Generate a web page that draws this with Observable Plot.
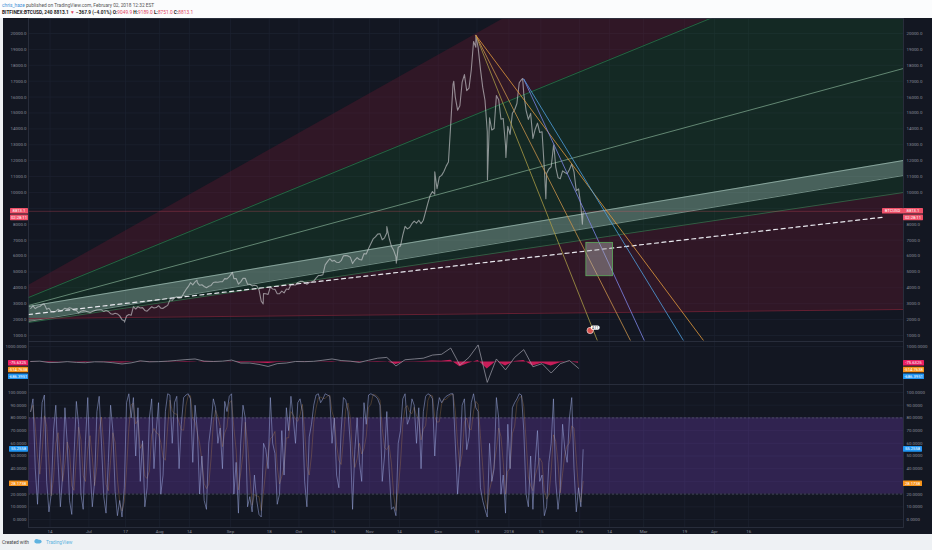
<!DOCTYPE html>
<html><head><meta charset="utf-8">
<script src="https://cdn.jsdelivr.net/npm/d3@7"></script>
<script src="https://cdn.jsdelivr.net/npm/@observablehq/plot@0.6"></script>
<style>
html,body{margin:0;padding:0;width:932px;height:550px;overflow:hidden;background:#eef1f4;font-family:Roboto,"Liberation Sans",sans-serif;}
#hdr{position:absolute;left:0;top:0;width:932px;height:18px;background:#fbfcfd;}
#dark{position:absolute;left:3px;top:18px;width:929px;height:516px;background:#131722;}
.pane{position:absolute;left:0;line-height:0;}
#ftr{position:absolute;left:0;top:534px;width:932px;height:16px;}
</style></head><body>
<svg id="hdr" width="932" height="18"></svg>
<div id="dark"></div>
<div id="main" class="pane" style="top:18px"></div>
<div id="osc" class="pane" style="top:341px"></div>
<div id="stoch" class="pane" style="top:384px"></div>
<svg id="ftr" width="932" height="16"></svg>
<script>
// ---------------- DATA ----------------
const xDomainDates = ["2017-06-04T13:00Z", "2018-06-22T20:00Z"];
const xTickDates = ["2017-06-14","2017-07-01","2017-07-17","2017-08-01","2017-08-14","2017-09-01","2017-09-18","2017-10-01","2017-10-16","2017-11-01","2017-11-14","2017-12-01","2017-12-18","2018-01-01","2018-01-15","2018-02-01","2018-02-14","2018-03-01","2018-03-19","2018-04-01","2018-04-16"];
const xTickLabels = ["14","Jul","17","Aug","14","Sep","18","Oct","16","Nov","14","Dec","18","2018","15","Feb","14","Mar","19","Apr","16"];
const priceTicks = [1000,2000,3000,4000,5000,6000,7000,8000,9000,10000,11000,12000,13000,14000,15000,16000,17000,18000,19000,20000];
const oscTicks = [1000];
const stochTicks = [0,10,20,30,40,50,60,70,80,90,100];

// BTCUSD daily closes, 2017-06-05 .. 2018-02-02
const priceStart = "2017-06-05T12:00Z";
const dailyClose = [
2698,2868,2693,2794,2824,2947,2958,2659,2717,2507,2465,2519,2655,2549,2612,2711,2666,2748,2700,2589,2578,2427,2530,2566,2540,2480,
2434,2507,2564,2601,2601,2608,2518,2571,2518,2372,2337,2398,2357,2233,1998,1929,2228,2318,2273,2817,2667,2810,2730,2754,2576,2529,2671,2809,2726,2757,2875,
2718,2710,2804,2895,3252,3213,3378,3419,3342,3381,3650,3884,4073,4325,4181,4376,4331,4160,4193,4087,4001,4100,4151,4334,4371,4352,4382,4382,4579,4565,4703,
4892,4578,4582,4236,4376,4597,4599,4228,4226,4122,4161,4130,3882,3154,3637,3625,3582,4065,3924,3905,3631,3630,3792,3682,3926,3892,4208,4185,4174,4338,
4403,4409,4318,4229,4329,4370,4426,4611,4773,4782,4826,5446,5648,5831,5679,5725,5605,5590,5708,6011,6031,6008,5930,5526,5750,5904,5780,5753,6153,6130,6468,
6767,7078,7207,7379,7407,7022,7144,7459,7143,6618,6357,5950,6559,6635,7315,7871,7708,7790,8036,8200,8071,8253,8038,8253,8790,9330,9818,10058,9888,10233,
10975,11074,11323,11657,11916,14291,16800,16000,15178,15455,16937,17415,16408,16564,17706,19498,19140,19114,17776,16624,15802,13831,14699,13926,14026,16099,15838,14606,14656,12952,14156,
13657,14982,15201,15599,16900,17100,16200,15170,14595,14973,13405,13980,14360,13772,13819,11490,11188,11474,11607,12899,11600,10931,10868,11359,11259,11171,11440,11786,11296,10106,10221,
9170,8813];
const intradayTimes = ["2017-06-11T08:00Z","2017-07-16T14:00Z","2017-08-17T08:00Z","2017-09-01T20:00Z","2017-09-15T08:00Z","2017-11-08T12:00Z","2017-11-12T16:00Z","2017-11-29T12:00Z","2017-12-07T20:00Z","2017-12-17T12:00Z","2017-12-22T14:00Z","2017-12-30T16:00Z","2018-01-07T00:00Z","2018-01-17T04:00Z","2018-01-20T16:00Z","2018-02-02T04:00Z"];
const intradayPrices = [2990,1840,4480,4980,2980,7850,5550,11300,17000,19890,10800,12200,17170,9600,13000,8000];
const lastPrice = 8813.1;

// drawing-tool anchors (date, price)
const edgeDates = ["2017-06-04T13:00Z", "2018-06-22T20:00Z"];
const lineA = [4150, 35060];
const lineB = [3390, 25920];
const lineC = [2890, 17800];
const bandTop = [2826, 12010];
const bandBottom = [1882, 11067];
const lineD = [1819, 9997];
const lineE = [2070, 2637];
const dashedDates = ["2017-06-04T13:00Z", "2018-06-14T00:00Z"];
const dashedPrices = [2322, 8443];
const fan1Origin = ["2017-12-17T12:00Z", 19890];
const fan1EndDates = ["2018-02-08T17:00Z", "2018-02-23T05:00Z", "2018-03-27T05:00Z"];
const fan2Origin = ["2018-01-07T10:00Z", 17150];
const fan2EndDates = ["2018-03-01T07:00Z", "2018-03-18T10:00Z"];
const fanEndPrice = 687;
const boxDates = ["2018-02-03T22:00Z", "2018-02-15T14:00Z"];
const boxPrices = [4730, 6830];
const badgeDate = "2018-02-05T14:00Z";
const badgePrice = 1316;

// oscillator (every 4 days from 2017-06-05)
const oscStart = "2017-06-05T12:00Z";
const oscLine = [40,60,-30,-20,30,-20,-40,20,10,-40,-120,-50,80,20,30,60,110,160,200,60,40,60,130,-60,-60,-150,-280,-100,-60,40,30,50,120,200,100,60,-20,120,250,300,-250,150,200,250,450,500,900,-200,300,1100,-1300,200,-500,300,800,-300,-100,-700,-100,100,-400];
const oscHist = [-10,10,-20,-10,5,-15,-20,5,-10,-30,-60,-15,20,-10,5,15,30,40,30,-20,-10,5,30,-40,-30,-60,-90,-20,-15,10,-10,5,30,40,-15,-10,-30,20,40,30,-150,20,30,40,70,50,120,-300,-80,100,-450,60,-250,40,100,-250,-80,-250,-40,20,-75];

// stochastic %K daily from 2017-06-05
const stochK = [
85,95,40,12,55,92,98,30,6,20,70,90,45,10,35,88,60,15,4,50,93,75,20,8,62,96,
40,10,30,85,97,60,18,5,45,90,70,22,3,15,2,25,92,99,80,96,50,88,30,62,10,25,80,95,40,70,92,
20,35,85,99,98,60,92,97,40,75,96,98,99,95,45,90,70,20,50,15,8,60,75,95,88,60,72,40,93,85,97,
99,20,45,5,60,90,80,10,18,6,35,15,4,2,60,55,40,96,60,52,12,20,70,35,88,70,97,80,60,92,
95,85,30,10,65,75,90,98,99,92,95,99,98,97,60,80,35,25,70,96,94,85,60,8,55,80,45,30,92,75,98,
99,98,97,95,90,30,50,85,40,8,10,3,60,70,95,99,75,80,95,90,60,88,40,85,97,99,98,95,50,85,
96,92,95,97,98,99,99,60,20,45,90,95,55,65,92,99,88,85,25,15,8,2,60,30,40,96,80,20,35,5,75,
40,88,92,95,99,98,70,20,10,50,8,45,70,30,35,3,10,45,60,95,30,8,25,75,55,45,80,96,40,6,25,
10,55];
const stochKLast = 55.2558, stochDLast = 28.1738;
const oscTags = [-75.6325, -514.7638, -686.3951];

// ---------------- BUILD ----------------
const D = s => new Date(s);
const xDomain = xDomainDates.map(D);
const xTicks = xTickDates.map((d,i)=>({date:new Date(d+"T00:00Z"), label:xTickLabels[i]}));
const t0 = D(priceStart);
const priceSeries = dailyClose.map((v,i)=>({date:d3.utcDay.offset(t0,i), price:v}))
  .concat(intradayTimes.map((t,i)=>({date:D(t), price:intradayPrices[i]})))
  .sort((a,b)=>a.date-b.date);
const E0 = D(edgeDates[0]), E1 = D(edgeDates[1]);
const band = (lo,hi)=>[{x:E0,y1:lo[0],y2:hi[0]},{x:E1,y1:lo[1],y2:hi[1]}];
const seg = arr=>[{x:E0,y:arr[0]},{x:E1,y:arr[1]}];
const fans = fan1EndDates.map(d=>({x1:D(fan1Origin[0]),y1:fan1Origin[1],x2:D(d),y2:fanEndPrice}))
  .concat(fan2EndDates.map(d=>({x1:D(fan2Origin[0]),y1:fan2Origin[1],x2:D(d),y2:fanEndPrice})));
const fanColors = ["#a89b45","#c9934a","#e39a3c","#7d84e6","#4f9fe0"];
const o0 = D(oscStart);
const oscData = oscLine.map((v,i)=>({date:d3.utcDay.offset(o0,4*i), v, h:oscHist[i]}));
const s0 = D(priceStart);
const stochData = stochK.map((v,i)=>({date:d3.utcDay.offset(s0,i), k:v}));

const axisColor = "#8a8e99", gridColor = "#1d2231", fs = 4.4;
const common = {width:932, marginLeft:28, marginRight:29, marginTop:0, marginBottom:0,
  x:{type:"utc", domain:xDomain, axis:null},
  style:{background:"transparent", fontFamily:"Roboto, Liberation Sans, sans-serif", fontSize:fs+"px", color:axisColor, display:"block"}};

// tick labels hidden under the value tags (as on the original)
const visPrice = priceTicks.filter(t=>Math.abs(t-lastPrice)*0.0159 > 4.8);
const visStoch = stochTicks.filter(t=>Math.abs(t-stochKLast)*1.27 > 4.8 && Math.abs(t-stochDLast)*1.27 > 4.8);

function leftRight(ticks, fmt){
  return [
    Plot.text(ticks,{y:d=>d,text:d=>fmt(d),frameAnchor:"left",textAnchor:"end",dx:-2,fill:axisColor,fontSize:fs}),
    Plot.text(ticks,{y:d=>d,text:d=>fmt(d),frameAnchor:"right",textAnchor:"start",dx:3,fill:axisColor,fontSize:fs})
  ];
}
const vgrid = Plot.ruleX(xTicks,{x:"date",stroke:gridColor,strokeWidth:0.7});

const main = Plot.plot({...common, height:323,
  y:{domain:[623,20944], axis:null},
  marks:[
    Plot.ruleY(priceTicks,{stroke:gridColor,strokeWidth:0.7}), vgrid,
    Plot.areaY(band(lineB,lineA),{x:"x",y1:"y1",y2:"y2",fill:"rgb(130,25,50)",fillOpacity:0.26,clip:true}),
    Plot.areaY(band(lineD,lineB),{x:"x",y1:"y1",y2:"y2",fill:"rgb(30,130,50)",fillOpacity:0.17,clip:true}),
    Plot.areaY(band(lineE,lineD),{x:"x",y1:"y1",y2:"y2",fill:"rgb(130,25,50)",fillOpacity:0.26,clip:true}),
    Plot.areaY(band(bandBottom,bandTop),{x:"x",y1:"y1",y2:"y2",fill:"rgb(195,228,218)",fillOpacity:0.3,clip:true}),
    Plot.line(seg(lineB),{x:"x",y:"y",stroke:"#2e7d4f",strokeWidth:0.7,clip:true}),
    Plot.line(seg(lineC),{x:"x",y:"y",stroke:"#9fd0b0",strokeWidth:0.7,strokeOpacity:0.8,clip:true}),
    Plot.line(seg(bandTop),{x:"x",y:"y",stroke:"#b8d8cc",strokeWidth:0.7,strokeOpacity:0.8,clip:true}),
    Plot.line(seg(bandBottom),{x:"x",y:"y",stroke:"#b8d8cc",strokeWidth:0.7,strokeOpacity:0.8,clip:true}),
    Plot.line(seg(lineD),{x:"x",y:"y",stroke:"#2e7d4f",strokeWidth:0.7,clip:true}),
    Plot.line(seg(lineE),{x:"x",y:"y",stroke:"#7a2236",strokeWidth:0.8,clip:true}),
    Plot.ruleY([lastPrice],{stroke:"#ef5068",strokeOpacity:0.45,strokeWidth:0.6}),
    Plot.line(dashedDates.map((d,i)=>({x:D(d),y:dashedPrices[i]})),{x:"x",y:"y",stroke:"#e8e8ee",strokeWidth:1.2,strokeDasharray:"4,3.5",clip:true}),
    Plot.line(priceSeries,{x:"date",y:"price",stroke:"#d8d8dc",strokeOpacity:0.6,strokeWidth:1.1}),
    Plot.link(fans,{x1:"x1",y1:"y1",x2:"x2",y2:"y2",stroke:(d,i)=>fanColors[i],strokeWidth:0.8,clip:true}),
    Plot.rect([{x1:D(boxDates[0]),x2:D(boxDates[1]),y1:boxPrices[0],y2:boxPrices[1]}],{x1:"x1",x2:"x2",y1:"y1",y2:"y2",fill:"#b0b0b0",fillOpacity:0.45,stroke:"#5cae5c",strokeWidth:0.8}),
    Plot.dot([{x:D(badgeDate),y:badgePrice}],{x:"x",y:"y",r:3.2,fill:"#d9534f",stroke:"#f0f0f0",strokeWidth:0.6}),
    ...leftRight(visPrice, d3.format(".1f")),
    Plot.frame({stroke:"#2f3443",strokeWidth:0.8})
  ]});
document.getElementById("main").appendChild(main);

const osc = Plot.plot({...common, height:43,
  y:{domain:[-1436,1320], axis:null},
  marks:[
    Plot.ruleY(oscTicks,{stroke:gridColor,strokeWidth:0.7}), vgrid,
    Plot.areaY(oscData,{x:"date",y1:0,y2:"h",fill:"#e91e63",fillOpacity:0.85}),
    Plot.line(oscData,{x:"date",y:"v",stroke:"#a0a0ac",strokeWidth:0.7}),
    ...leftRight(oscTicks, d3.format(".4f")),
    Plot.frame({stroke:"#2f3443",strokeWidth:0.8})
  ]});
document.getElementById("osc").appendChild(osc);

const stoch = Plot.plot({...common, height:156, marginBottom:13,
  y:{domain:[-6.3,106.3], axis:null},
  marks:[
    Plot.ruleY(stochTicks,{stroke:gridColor,strokeWidth:0.7}), vgrid,
    Plot.rectY([{y1:20,y2:80}],{x1:xDomain[0],x2:xDomain[1],y1:"y1",y2:"y2",fill:"rgb(126,70,200)",fillOpacity:0.28}),
    Plot.ruleY([20,80],{stroke:"#6a6e80",strokeWidth:0.5,strokeDasharray:"2,2"}),
    Plot.line(stochData,Plot.windowY({k:3,anchor:"end",x:"date",y:"k",stroke:"#c48a4a",strokeWidth:0.5,strokeOpacity:0.6})),
    Plot.line(stochData,{x:"date",y:"k",stroke:"#98a6dc",strokeWidth:0.6,strokeOpacity:0.9}),
    ...leftRight(visStoch, d3.format(".4f")),
    Plot.text(xTicks,{x:"date",text:"label",frameAnchor:"bottom",lineAnchor:"top",dy:2,fill:axisColor,fontSize:fs}),
    Plot.frame({stroke:"#2f3443",strokeWidth:0.8})
  ]});
document.getElementById("stoch").appendChild(stoch);

// ---------------- TAGS ----------------
function tag(svgEl, x, w, yc, fill, text, color){
  const g = d3.select(svgEl).append("g");
  g.append("rect").attr("x",x).attr("y",yc-2.8).attr("width",w).attr("height",5.6).attr("rx",0.6).attr("fill",fill);
  g.append("text").attr("x",x+w/2).attr("y",yc).attr("dy","0.35em").attr("text-anchor","middle")
    .attr("font-size",4.2).attr("fill",color||"#fff").attr("font-family","Roboto, Liberation Sans, sans-serif").text(text);
}
const my = main.scale("y").apply(lastPrice);
const red = "#ef5068";
tag(main, 903, 20, my, red, "8813.1");
tag(main, 903, 20, my+6.6, red, "02:28:11");
tag(main, 10, 18, my, red, "8813.1");
tag(main, 10, 18, my+6.6, red, "02:28:11");
tag(main, 882, 21, my, red, "BTCUSD");
const badgeX = main.scale("x").apply(D(badgeDate)), badgeY = main.scale("y").apply(badgePrice);
d3.select(main).append("rect").attr("x",badgeX+1).attr("y",badgeY-4.5).attr("width",9).attr("height",4.2).attr("rx",2).attr("fill","#fff");
d3.select(main).append("text").attr("x",badgeX+5.5).attr("y",badgeY-2.4).attr("dy","0.35em").attr("text-anchor","middle").attr("font-size",3.4).attr("fill","#222").text("4:11");

const oy = osc.scale("y").apply(oscTags[0]);
[["#e91e63",0],["#f7931a",1],["#2196f3",2]].forEach(([c,i])=>{
  tag(osc, 903, 21, oy+i*6.7, c, oscTags[i].toFixed(4));
  tag(osc, 8, 20, oy+i*6.7, c, oscTags[i].toFixed(4));
});
const sy = stoch.scale("y");
tag(stoch, 903, 19, sy.apply(stochKLast), "#2196f3", stochKLast.toFixed(4));
tag(stoch, 903, 19, sy.apply(stochDLast), "#f7931a", stochDLast.toFixed(4));
tag(stoch, 9, 19, sy.apply(stochKLast), "#2196f3", stochKLast.toFixed(4));
tag(stoch, 9, 19, sy.apply(stochDLast), "#f7931a", stochDLast.toFixed(4));

// ---------------- HEADER / FOOTER ----------------
const hdr = d3.select("#hdr");
const t1 = hdr.append("text").attr("x",2).attr("y",7).attr("font-size",4.8).attr("fill","#555");
t1.append("tspan").attr("fill","#3d8fd6").text("chris_haze");
t1.append("tspan").text(" published on TradingView.com, February 02, 2018 12:32 EST");
const t2 = hdr.append("text").attr("x",2).attr("y",14.2).attr("font-size",4.8).attr("fill","#222").attr("font-weight","bold");
const r = "#e0455e";
[["BITFINEX:BTCUSD, 240 8813.1 ",null],["▼",r],[" \u2212367.9 (\u22124.01%) O:",null],["9049.9",r],[" H:",null],["9189.0",r],[" L:",null],["8751.0",r],[" C:",null],["8813.1",r]]
  .forEach(([s,c])=>{const sp=t2.append("tspan").text(s); if(c) sp.attr("fill",c).attr("font-weight","normal");});
const ftr = d3.select("#ftr");
ftr.append("text").attr("x",2).attr("y",9.5).attr("font-size",4.8).attr("fill","#444").text("Created with");
ftr.append("ellipse").attr("cx",38).attr("cy",7.6).attr("rx",3.6).attr("ry",2).attr("fill","#5fb3e0");
ftr.append("ellipse").attr("cx",36.5).attr("cy",6.6).attr("rx",1.8).attr("ry",1.6).attr("fill","#5fb3e0");
ftr.append("text").attr("x",46).attr("y",9.5).attr("font-size",4.8).attr("fill","#5fb3e0").text("TradingView");
</script>
</body></html>
